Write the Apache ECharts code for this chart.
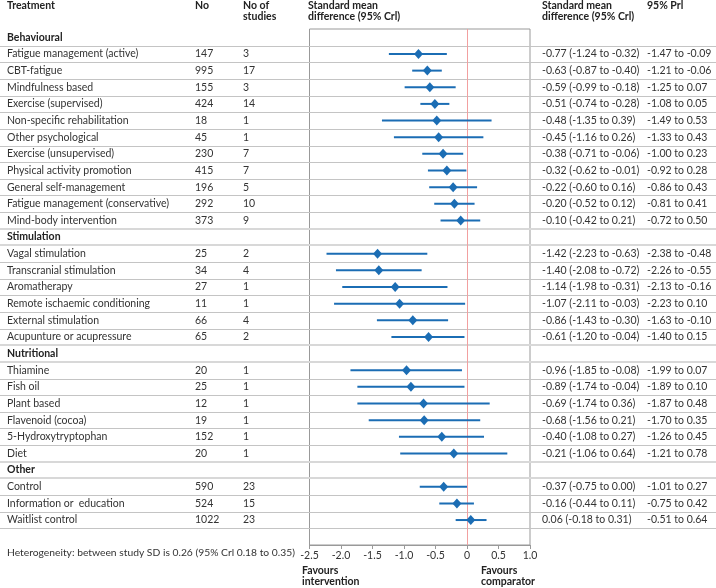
<!DOCTYPE html>
<html><head><meta charset="utf-8">
<script src="https://cdn.jsdelivr.net/npm/echarts@6/dist/echarts.min.js"></script>
<style>html,body{margin:0;padding:0;background:#fff}#c{width:716px;height:588px}</style>
</head><body><div id="c"></div>
<script>
const groupNames = ['Behavioural', 'Stimulation', 'Nutritional', 'Other'];
const treatments = [
  'Fatigue management (active)', 'CBT-fatigue', 'Mindfulness based', 'Exercise (supervised)',
  'Non-specific rehabilitation', 'Other psychological', 'Exercise (unsupervised)',
  'Physical activity promotion', 'General self-management', 'Fatigue management (conservative)',
  'Mind-body intervention',
  'Vagal stimulation', 'Transcranial stimulation', 'Aromatherapy', 'Remote ischaemic conditioning',
  'External stimulation', 'Acupunture or acupressure',
  'Thiamine', 'Fish oil', 'Plant based', 'Flavenoid (cocoa)', '5-Hydroxytryptophan', 'Diet',
  'Control', 'Information or  education', 'Waitlist control'
];
const treatmentGroup = [0,0,0,0,0,0,0,0,0,0,0, 1,1,1,1,1,1, 2,2,2,2,2,2, 3,3,3];
const participants = [147,995,155,424,18,45,230,415,196,292,373, 25,34,27,11,66,65, 20,25,12,19,152,20, 590,524,1022];
const studies = [3,17,3,14,1,1,7,7,5,10,9, 2,4,1,1,4,2, 1,1,1,1,1,1, 23,15,23];
const smd = [-0.77,-0.63,-0.59,-0.51,-0.48,-0.45,-0.38,-0.32,-0.22,-0.20,-0.10, -1.42,-1.40,-1.14,-1.07,-0.86,-0.61, -0.96,-0.89,-0.69,-0.68,-0.40,-0.21, -0.37,-0.16,0.06];
const crLow = [-1.24,-0.87,-0.99,-0.74,-1.35,-1.16,-0.71,-0.62,-0.60,-0.52,-0.42, -2.23,-2.08,-1.98,-2.11,-1.43,-1.20, -1.85,-1.74,-1.74,-1.56,-1.08,-1.06, -0.75,-0.44,-0.18];
const crHigh = [-0.32,-0.40,-0.18,-0.28,0.39,0.26,-0.06,-0.01,0.16,0.12,0.21, -0.63,-0.72,-0.31,-0.03,-0.30,-0.04, -0.08,-0.04,0.36,0.21,0.27,0.64, 0.00,0.11,0.31];
const prLow = [-1.47,-1.21,-1.25,-1.08,-1.49,-1.33,-1.00,-0.92,-0.86,-0.81,-0.72, -2.38,-2.26,-2.13,-2.23,-1.63,-1.40, -1.99,-1.89,-1.87,-1.70,-1.26,-1.21, -1.01,-0.75,-0.51];
const prHigh = [-0.09,-0.06,0.07,0.05,0.53,0.43,0.23,0.28,0.43,0.41,0.50, -0.48,-0.55,-0.16,0.10,-0.10,0.15, 0.07,0.10,0.48,0.35,0.45,0.78, 0.27,0.42,0.64];
const xTicks = [-2.5, 1.0, 0.5]; // min, max, interval

// Build rows (section headers + treatments + trailing spacer)
const rows = [];
let lastG = -1;
treatments.forEach((t, i) => {
  if (treatmentGroup[i] !== lastG) { rows.push({ header: groupNames[treatmentGroup[i]] }); lastG = treatmentGroup[i]; }
  rows.push({ i: i });
});
rows.push({ spacer: true });
const cats = rows.map((r, k) => 'r' + k);
const rowOf = {};
rows.forEach((r, k) => { if (r.i !== undefined) rowOf[r.i] = k; });

const FONT = 'Lato';
const FS = 10.5;
const TXT = '#333';
const BLUE = '#1b6db4';
const f2 = v => v.toFixed(2);

const GT = 29, GH = 516;

const chart = echarts.init(document.getElementById('c'), null, { renderer: 'canvas' });
chart.setOption({
  animation: false,
  textStyle: { fontFamily: FONT },
  grid: [
    { left: 309.5, width: 220.5, top: GT, height: GH, show: true, borderColor: '#999', borderWidth: 1, backgroundColor: 'transparent' },
    { left: 0, right: 0, top: GT, height: GH, show: false }
  ],
  xAxis: [
    { gridIndex: 0, type: 'value', min: xTicks[0], max: xTicks[1], interval: xTicks[2],
      axisLine: { show: true, lineStyle: { color: '#999', width: 1 } },
      axisTick: { show: true, length: 4, lineStyle: { color: '#999' } },
      splitLine: { show: false },
      axisLabel: { fontFamily: FONT, fontSize: FS, color: TXT, margin: 5,
        formatter: v => (Math.abs(v) < 1e-9 ? '0' : v.toFixed(1)) } },
    { gridIndex: 1, type: 'value', min: 0, max: 716, show: false }
  ],
  yAxis: [
    { gridIndex: 0, type: 'category', data: cats, inverse: true, show: false },
    { gridIndex: 1, type: 'category', data: cats, inverse: true, show: false }
  ],
  graphic: [
    { type: 'text', left: 7, top: 0, style: { text: 'Treatment', font: 'bold ' + FS + 'px ' + FONT, fill: '#222' } },
    { type: 'text', left: 195, top: 0, style: { text: 'No', font: 'bold ' + FS + 'px ' + FONT, fill: '#222' } },
    { type: 'text', left: 243, top: 0, style: { text: 'No of\nstudies', font: 'bold ' + FS + 'px ' + FONT, fill: '#222', lineHeight: 11 } },
    { type: 'text', left: 308, top: 0, style: { text: 'Standard mean\ndifference (95% Crl)', font: 'bold ' + FS + 'px ' + FONT, fill: '#222', lineHeight: 11 } },
    { type: 'text', left: 542, top: 0, style: { text: 'Standard mean\ndifference (95% Crl)', font: 'bold ' + FS + 'px ' + FONT, fill: '#222', lineHeight: 11 } },
    { type: 'text', left: 647, top: 0, style: { text: '95% Prl', font: 'bold ' + FS + 'px ' + FONT, fill: '#222' } },
    { type: 'text', left: 7, top: 548, style: { text: 'Heterogeneity: between study SD is 0.26 (95% Crl 0.18 to 0.35)', font: '10.3px ' + FONT, fill: TXT } },
    { type: 'text', left: 302, top: 565, style: { text: 'Favours\nintervention', font: 'bold ' + FS + 'px ' + FONT, fill: '#222', lineHeight: 11 } },
    { type: 'text', right: 716 - 535, top: 565, style: { text: 'Favours\ncomparator', font: 'bold ' + FS + 'px ' + FONT, fill: '#222', lineHeight: 11, align: 'right' } }
  ],
  series: [
    // separator lines
    { type: 'custom', xAxisIndex: 1, yAxisIndex: 1, z: 1, silent: true, clip: false,
      data: rows.slice(0, rows.length - 1).map((r, k) => [0, k]),
      encode: { x: 0, y: 1 },
      renderItem: (params, api) => {
        const k = api.value(1);
        const c = api.coord([0, k]);
        const h = api.size([0, 1])[1];
        const thick = (rows[k + 1] && rows[k + 1].header) || (rows[k].header && k > 0);
        const y = Math.round(c[1] + h / 2) + (thick ? 0 : 0.5);
        return { type: 'line', shape: { x1: 0, y1: y, x2: 716, y2: y },
          style: { stroke: thick ? '#d8d8d8' : '#c4c4c4', lineWidth: thick ? 2 : 1 } };
      } },
    // table text
    { type: 'custom', xAxisIndex: 1, yAxisIndex: 1, z: 5, silent: true, clip: false,
      data: rows.map((r, k) => [0, k]),
      encode: { x: 0, y: 1 },
      renderItem: (params, api) => {
        const k = api.value(1);
        const y = api.coord([0, k])[1];
        const r = rows[k];
        const mk = (x, text, bold) => ({ type: 'text', x: x, y: y,
          style: { text: text, font: (bold ? 'bold ' : '') + FS + 'px ' + FONT, fill: bold ? '#222' : TXT, verticalAlign: 'middle', align: 'left' } });
        if (r.header) return { type: 'group', children: [mk(7, r.header, true)] };
        if (r.spacer) return { type: 'group', children: [] };
        const i = r.i;
        return { type: 'group', children: [
          mk(7, treatments[i]),
          mk(195, String(participants[i])),
          mk(243, String(studies[i])),
          mk(542, f2(smd[i]) + ' (' + f2(crLow[i]) + ' to ' + f2(crHigh[i]) + ')'),
          mk(647, f2(prLow[i]) + ' to ' + f2(prHigh[i]))
        ] };
      } },
    // credible interval lines
    { type: 'custom', xAxisIndex: 0, yAxisIndex: 0, z: 10, silent: true,
      data: treatments.map((t, i) => [crLow[i], crHigh[i], rowOf[i]]),
      encode: { x: [0, 1], y: 2 },
      renderItem: (params, api) => {
        const a = api.coord([api.value(0), api.value(2)]);
        const b = api.coord([api.value(1), api.value(2)]);
        return { type: 'line', shape: { x1: a[0], y1: a[1], x2: b[0], y2: b[1] },
          style: { stroke: BLUE, lineWidth: 2 } };
      } },
    // point estimates
    { type: 'scatter', xAxisIndex: 0, yAxisIndex: 0, z: 11, silent: true,
      symbol: 'diamond', symbolSize: [9, 10],
      itemStyle: { color: BLUE, opacity: 1 },
      data: treatments.map((t, i) => [smd[i], rowOf[i]]),
      markLine: { silent: true, symbol: 'none', label: { show: false },
        lineStyle: { color: '#f2a0a0', width: 1, type: 'solid' },
        data: [{ xAxis: 0 }] } }
  ]
});
</script></body></html>
